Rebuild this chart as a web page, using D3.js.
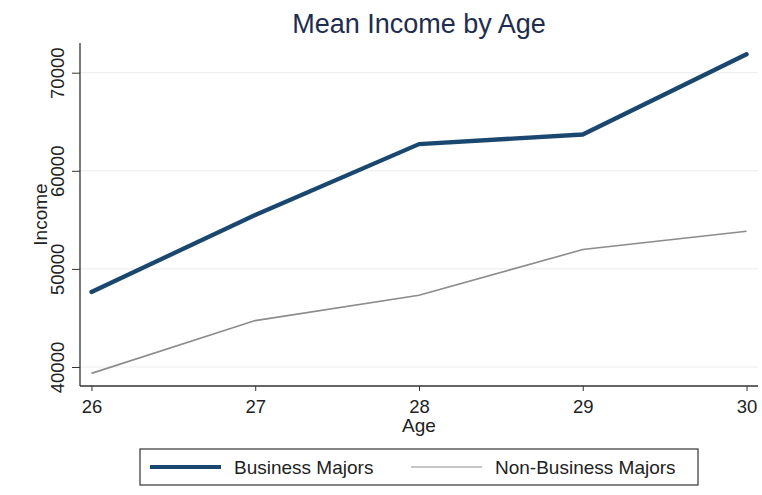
<!DOCTYPE html>
<html><head><meta charset="utf-8">
<script src="https://cdn.jsdelivr.net/npm/d3@7"></script>
<style>body{margin:0;background:#fff}svg{display:block;font-family:"Liberation Sans",Arial,sans-serif}</style>
</head><body><svg id="c" width="762" height="495"></svg>
<script>
const ages = [26, 27, 28, 29, 30];
const business = [47650, 55500, 62720, 63700, 71880];
const nonBusiness = [39350, 44730, 47310, 51970, 53830];
const yTicks = [40000, 50000, 60000, 70000];
const seriesNames = ["Business Majors", "Non-Business Majors"];

const svg = d3.select("#c");
const L = 80, R = 758, T = 43, B = 386;
const x = d3.scaleLinear().domain([25.93, 30.07]).range([L, R]);
const y = d3.scaleLinear().domain([38063, 73027]).range([B, T]);

// gridlines
svg.append("g").selectAll("line").data(yTicks).join("line")
  .attr("x1", L).attr("x2", R).attr("y1", d => y(d)).attr("y2", d => y(d))
  .attr("stroke", "#ececec").attr("stroke-width", 1);

// y axis
const ya = svg.append("g").attr("transform", `translate(${L},0)`)
  .call(d3.axisLeft(y).tickValues(yTicks).tickSize(8).tickFormat(d3.format("d")));
ya.select(".domain").attr("d", `M0,${T}V${B}`).attr("stroke", "#333").attr("stroke-width", 1.3);
ya.selectAll(".tick line").attr("stroke", "#333");
ya.selectAll(".tick text").attr("font-size", 18.5).attr("fill", "#222")
  .attr("transform", "rotate(-90)").attr("x", 0).attr("y", -16.5).attr("dy", 0)
  .attr("text-anchor", "middle");

// x axis
const xa = svg.append("g").attr("transform", `translate(0,${B})`)
  .call(d3.axisBottom(x).tickValues(ages).tickSize(5).tickFormat(d3.format("d")));
xa.select(".domain").attr("d", `M${L},0H${R}`).attr("stroke", "#333").attr("stroke-width", 1.3);
xa.selectAll(".tick line").attr("stroke", "#333");
xa.selectAll(".tick text").attr("font-size", 18.5).attr("fill", "#222").attr("y", 27).attr("dy", 0);

// labels
svg.append("text").attr("x", (L + R) / 2).attr("y", 33).attr("text-anchor", "middle")
  .attr("font-size", 27).attr("fill", "#1e2d4f").text("Mean Income by Age");
svg.append("text").attr("x", x(28)).attr("y", 432).attr("text-anchor", "middle")
  .attr("font-size", 19).attr("fill", "#222").text("Age");
svg.append("text").attr("transform", `translate(47,${(T + B) / 2}) rotate(-90)`)
  .attr("text-anchor", "middle").attr("font-size", 19).attr("fill", "#222").text("Income");

// lines
const line = d3.line().x((d, i) => x(ages[i])).y(d => y(d));
svg.append("path").datum(nonBusiness).attr("d", line).attr("fill", "none")
  .attr("stroke", "#8c8c8c").attr("stroke-width", 1.6);
svg.append("path").datum(business).attr("d", line).attr("fill", "none")
  .attr("stroke", "#1a476f").attr("stroke-width", 4.3).attr("stroke-linejoin", "round").attr("stroke-linecap", "round");

// legend
const lg = svg.append("g");
lg.append("rect").attr("x", 140).attr("y", 449).attr("width", 558).attr("height", 36)
  .attr("fill", "#fff").attr("stroke", "#333").attr("stroke-width", 1.2);
lg.append("line").attr("x1", 150).attr("x2", 221).attr("y1", 467).attr("y2", 467)
  .attr("stroke", "#1a476f").attr("stroke-width", 4);
lg.append("text").attr("x", 234).attr("y", 474).attr("font-size", 19).attr("fill", "#222").text(seriesNames[0]);
lg.append("line").attr("x1", 411).attr("x2", 482).attr("y1", 467).attr("y2", 467)
  .attr("stroke", "#8c8c8c").attr("stroke-width", 1.2);
lg.append("text").attr("x", 495).attr("y", 474).attr("font-size", 19).attr("fill", "#222").text(seriesNames[1]);
</script></body></html>
